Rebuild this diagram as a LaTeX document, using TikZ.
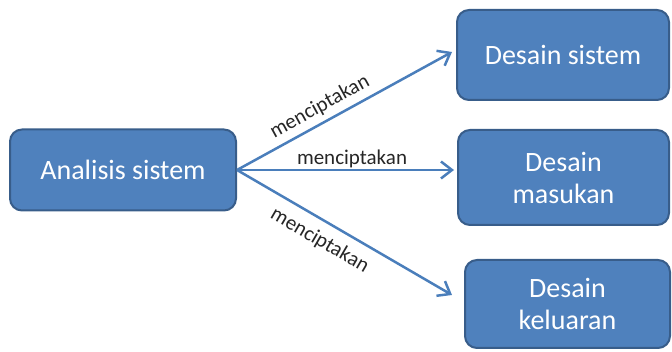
\documentclass[tikz,border=0pt]{standalone}
\usepackage{fontspec}
\setmainfont{Carlito}
\usetikzlibrary{arrows.meta,calc}

\definecolor{kotakisi}{HTML}{4F81BD}
\definecolor{kotakgaris}{HTML}{385D8A}
\definecolor{panah}{HTML}{4A7EBB}

\tikzset{
kotak/.style={draw=kotakgaris,fill=kotakisi,line width=2pt,rounded corners=12pt,text=white,align=center,font=\fontsize{28}{32}\selectfont,inner sep=0pt},
hubung/.style={draw=panah,line width=2.5pt,-{Straight Barb[length=11pt,width=17pt,line width=2.5pt]}},
teks/.style={font=\fontsize{21}{24}\selectfont,text=black!85,sloped}
}

\begin{document}
\begin{tikzpicture}[x=1pt,y=-1pt]
\useasboundingbox (0,0) rectangle (672,352);

%kotak
\node[kotak,minimum width=226pt,minimum height=81pt] (analisis) at (123,170) {Analisis sistem};
\node[kotak,minimum width=212pt,minimum height=90pt] (dsistem) at (563,55) {Desain sistem};
\node[kotak,minimum width=211pt,minimum height=95pt] (dmasukan) at (563.5,177.5) {Desain\\masukan};
\node[kotak,minimum width=205pt,minimum height=88pt] (dkeluaran) at (567.5,304) {Desain\\keluaran};

%panah
\draw[hubung] (analisis.east) -- ($(dsistem.west)+(-4,-3)$) node[teks,pos=0.42,above=2pt] {menciptakan};
\draw[hubung] (analisis.east) -- ($(dmasukan.west)+(-3,-7.5)$) node[teks,pos=0.53,above=-2pt] {menciptakan};
\draw[hubung] (analisis.east) -- ($(dkeluaran.west)+(-12,-9)$) node[teks,pos=0.43,below=6pt] {menciptakan};
\end{tikzpicture}
\end{document}
